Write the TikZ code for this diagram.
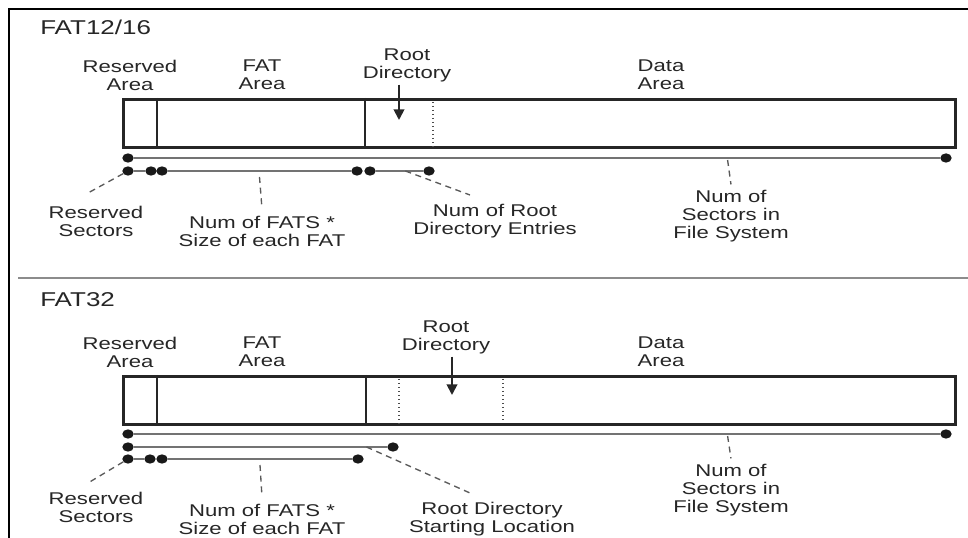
\documentclass[tikz,border=0pt]{standalone}
\usepackage{fontspec}
\setmainfont{Liberation Sans}
\newfontfamily\stretchfont[FakeStretch=1.3]{Liberation Sans}
\usetikzlibrary{arrows.meta,shapes.geometric,calc}

\begin{document}
\begin{tikzpicture}[x=0.75pt, y=-0.75pt]
    \useasboundingbox (0,0) rectangle (968,538);

    \tikzstyle{desc} = [align=center, inner sep=0pt, text=black!85, font=\stretchfont\fontsize{12.75pt}{13.5pt}\selectfont]
    \tikzstyle{title} = [anchor=west, inner sep=0pt, text=black!85, font=\stretchfont\fontsize{15pt}{18pt}\selectfont]
    \tikzstyle{disk} = [rectangle, draw=black!85, line width=2pt, minimum width=624pt, minimum height=36pt, anchor=north west, inner sep=0pt]
    \tikzstyle{dot} = [ellipse, fill=black!90, minimum width=8.5pt, minimum height=7pt, inner sep=0pt]
    \tikzstyle{span} = [black!55, line width=1.1pt]
    \tikzstyle{leader} = [black!65, line width=1pt, dash pattern=on 4.5pt off 3.5pt]
    \tikzstyle{divider} = [black!85, line width=2pt]
    \tikzstyle{marker} = [black!70, line width=1pt, dash pattern=on 1pt off 2pt]
    \tikzstyle{arrow} = [black!85, line width=1.4pt, -{Triangle[length=8pt,width=8pt]}]

    % frame and separator
    \draw [line width=1.6pt] (9,538) -- (9,9) -- (968,9);
    \draw [black!45, line width=1.1pt] (18,278) -- (968,278);

    % ----- ----- ----- ----- FAT12/16 ----- ----- ----- -----
    \node (Title1) [title] at (40,27) {FAT12/16};

    \node (Disk1) [disk] at (122,98) {};
    \draw [divider] ([xshift=26.25pt]Disk1.north west) -- ([xshift=26.25pt]Disk1.south west);
    \draw [divider] ([xshift=182.25pt]Disk1.north west) -- ([xshift=182.25pt]Disk1.south west);
    \draw [marker] ([xshift=233.25pt, yshift=-3pt]Disk1.north west) -- ([xshift=233.25pt]Disk1.south west);

    \node (Reserved_Area1) [desc] at (130,75) {Reserved\\Area};
    \node (FAT_Area1) [desc] at (262,75) {FAT\\Area};
    \node (Root_Directory1) [desc] at (407,65) {Root\\Directory};
    \node (Data_Area1) [desc] at (661,75) {Data\\Area};
    \coordinate (Root_Tip1) at (399,120);
    \draw [arrow] ([yshift=-2pt]Root_Directory1.south -| Root_Tip1) -- (Root_Tip1);

    \node (A1) [dot] at (128,158) {};
    \node (A2) [dot] at (946,158) {};
    \node (B1) [dot] at (128,171) {};
    \node (B2) [dot] at (151,171) {};
    \node (B3) [dot] at (162,171) {};
    \node (B4) [dot] at (357,171) {};
    \node (B5) [dot] at (370,171) {};
    \node (B6) [dot] at (429,171) {};
    \draw [span] (A1) -- (A2);
    \draw [span] (B1) -- (B2);
    \draw [span] (B3) -- (B4);
    \draw [span] (B5) -- (B6);

    \node (Reserved_Sectors1) [desc] at (96,221) {Reserved\\Sectors};
    \node (Num_FATS1) [desc] at (262,231) {Num of FATS *\\Size of each FAT};
    \node (Root_Entries1) [desc] at (495,221) {Num of Root\\Directory Entries};
    \node (Sectors_FS1) [desc] at (731,216) {Num of\\Sectors in\\File System};

    \coordinate (Reserved_End1) at (88,193);
    \coordinate (FATS_Mid1) at ($(B3)!0.5!(B4)$);
    \coordinate (Root_Mid1) at ($(B5)!0.6!(B6)$);
    \coordinate (Root_End1) at (470,195);
    \coordinate (Sectors_Mid1) at ($(A1)!0.733!(A2)$);

    \draw [leader] (B1) -- (Reserved_End1);
    \draw [leader] ([yshift=-4.5pt]FATS_Mid1) -- ([yshift=5pt]Num_FATS1.north);
    \draw [leader] (Root_Mid1) -- (Root_End1);
    \draw [leader] ([yshift=-1.5pt]Sectors_Mid1) -- ([yshift=4pt]Sectors_FS1.north);

    % ----- ----- ----- ----- FAT32 ----- ----- ----- -----
    \node (Title2) [title] at (40,300) {FAT32};

    \node (Disk2) [disk] at (122,375) {};
    \draw [divider] ([xshift=26.25pt]Disk2.north west) -- ([xshift=26.25pt]Disk2.south west);
    \draw [divider] ([xshift=183pt]Disk2.north west) -- ([xshift=183pt]Disk2.south west);
    \draw [marker] ([xshift=207.75pt, yshift=-3pt]Disk2.north west) -- ([xshift=207.75pt]Disk2.south west);
    \draw [marker] ([xshift=285.75pt, yshift=-3pt]Disk2.north west) -- ([xshift=285.75pt, yshift=3pt]Disk2.south west);

    \node (Reserved_Area2) [desc] at (130,352) {Reserved\\Area};
    \node (FAT_Area2) [desc] at (262,352) {FAT\\Area};
    \node (Root_Directory2) [desc] at (446,337) {Root\\Directory};
    \node (Data_Area2) [desc] at (661,352) {Data\\Area};
    \coordinate (Root_Tip2) at (452,395);
    \draw [arrow] ([yshift=-2pt]Root_Directory2.south -| Root_Tip2) -- (Root_Tip2);

    \node (C1) [dot] at (128,434) {};
    \node (C2) [dot] at (946,434) {};
    \node (D1) [dot] at (128,447) {};
    \node (D2) [dot] at (393,447) {};
    \node (E1) [dot] at (128,459) {};
    \node (E2) [dot] at (150,459) {};
    \node (E3) [dot] at (162,459) {};
    \node (E4) [dot] at (358,459) {};
    \draw [span] (C1) -- (C2);
    \draw [span] (D1) -- (D2);
    \draw [span] (E1) -- (E2);
    \draw [span] (E3) -- (E4);

    \node (Reserved_Sectors2) [desc] at (96,507) {Reserved\\Sectors};
    \node (Num_FATS2) [desc] at (262,519) {Num of FATS *\\Size of each FAT};
    \node (Root_Start2) [desc] at (492,519) {Root Directory\\Starting Location};
    \node (Sectors_FS2) [desc] at (731,490) {Num of\\Sectors in\\File System};

    \coordinate (Reserved_End2) at (88,483);
    \coordinate (FATS_Mid2) at ($(E3)!0.5!(E4)$);
    \coordinate (Root_Mid2) at ($(D1)!0.9!(D2)$);
    \coordinate (Root_End2) at (470,493);
    \coordinate (Sectors_Mid2) at ($(C1)!0.733!(C2)$);

    \draw [leader] (E1) -- (Reserved_End2);
    \draw [leader] ([yshift=-4.5pt]FATS_Mid2) -- ([yshift=5pt]Num_FATS2.north);
    \draw [leader] (Root_Mid2) -- (Root_End2);
    \draw [leader] ([yshift=-1.5pt]Sectors_Mid2) -- ([yshift=4pt]Sectors_FS2.north);
\end{tikzpicture}
\end{document}
